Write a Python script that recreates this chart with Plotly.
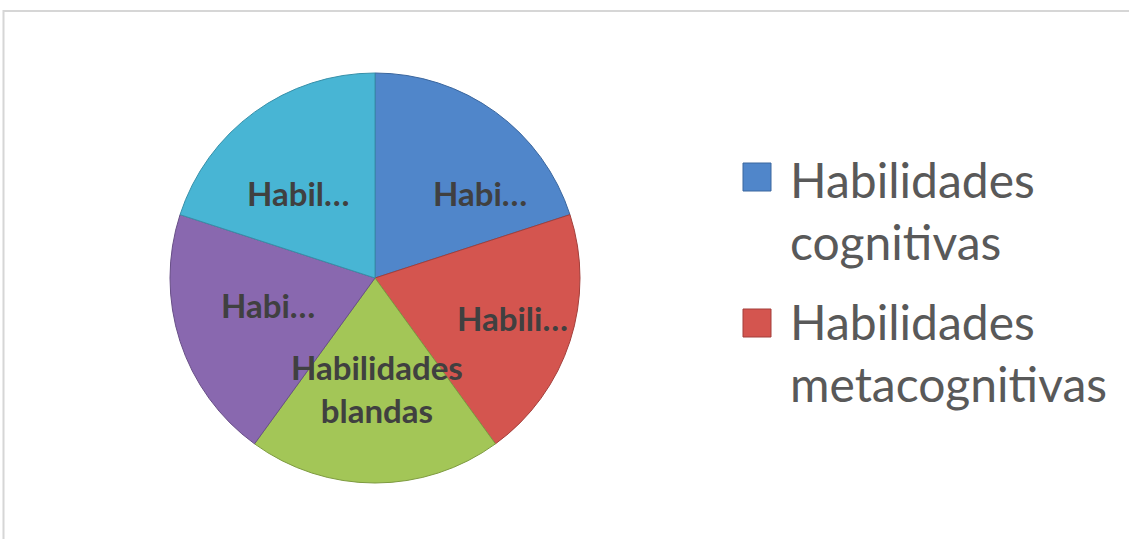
import plotly.graph_objects as go

# ---- data ----
categories = ["Habilidades cognitivas", "Habilidades metacognitivas", "Habilidades blandas",
              "Habilidades (4)", "Habilidades (5)"]
values = [1, 1, 1, 1, 1]
slice_texts = ["Habi…", "Habili…", "Habilidades<br>blandas", "Habi…", "Habil…"]
legend_entries = ["Habilidades<br>cognitivas", "Habilidades<br>metacognitivas"]

# ---- styles ----
colors = ["#5086CA", "#D4554F", "#A3C657", "#8968AF", "#48B5D4"]
edge_colors = ["#3A669E", "#A33F3B", "#7E9B40", "#684F87", "#3790A9"]
W, H = 1129, 539
cx, cy, R = 375, 278, 205
# label offsets from pie centre (px), layout only
label_offsets = [(105, -85), (137, 40), (2, 110), (-107, 27), (-77, -85)]

fig = go.Figure()
fig.add_trace(go.Pie(
    labels=categories, values=values, sort=False, direction="clockwise",
    rotation=0, textinfo="none", showlegend=False,
    marker=dict(colors=colors, line=dict(color=edge_colors, width=1)),
    domain=dict(x=[(cx - R) / W, (cx + R) / W], y=[1 - (cy + R) / H, 1 - (cy - R) / H]),
))

annotations = []
for t, (dx, dy) in zip(slice_texts, label_offsets):
    annotations.append(dict(
        x=(cx + dx) / W, y=1 - (cy + dy) / H, xref="paper", yref="paper",
        text=t, showarrow=False, xanchor="center", yanchor="middle",
        font=dict(family="Lato", size=33, color="#404040", weight="bold"),
        align="center",
    ))

shapes = [dict(type="rect", xref="paper", yref="paper",
               x0=3.5 / W, x1=1.02, y0=-0.02, y1=1 - 11 / H,
               line=dict(color="#D6D6D6", width=2), fillcolor="rgba(0,0,0,0)")]

leg_x, sq = 743, 28
leg_centres = [210, 352]
leg_sq_top = [163, 309]
for i, (txt, yc, st) in enumerate(zip(legend_entries, leg_centres, leg_sq_top)):
    shapes.append(dict(type="rect", xref="paper", yref="paper",
                       x0=leg_x / W, x1=(leg_x + sq) / W,
                       y0=1 - (st + sq) / H, y1=1 - st / H,
                       fillcolor=colors[i], line=dict(color=edge_colors[i], width=1)))
    annotations.append(dict(
        x=788 / W, y=1 - yc / H, xref="paper", yref="paper", text=txt,
        showarrow=False, xanchor="left", yanchor="middle", align="left",
        font=dict(family="Lato", size=48, color="#595959"),
    ))

fig.update_layout(
    width=W, height=H, margin=dict(l=0, r=0, t=0, b=0),
    paper_bgcolor="white", plot_bgcolor="white",
    annotations=annotations, shapes=shapes,
)
fig.write_html("out.html", config={"displayModeBar": False},
               post_script="document.body.style.margin='0';document.body.style.overflow='hidden';")
